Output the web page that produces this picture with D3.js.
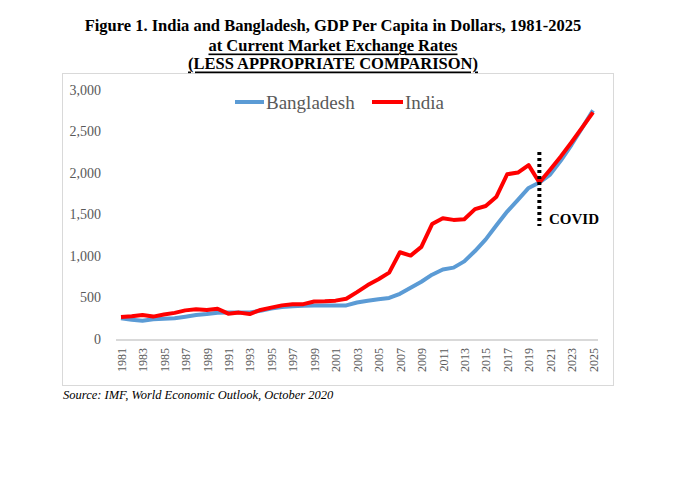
<!DOCTYPE html>
<html><head><meta charset="utf-8">
<script src="https://cdn.jsdelivr.net/npm/d3@7"></script>
<style>body{margin:0;background:#fff}svg{display:block}</style>
</head><body>
<script>
const years = d3.range(1981, 2026);
const india = [265,275,290,270,295,315,345,358,350,365,305,318,300,350,378,405,420,420,452,455,462,485,565,650,720,800,1045,1005,1110,1385,1455,1435,1442,1565,1602,1715,1985,2005,2095,1885,2040,2200,2370,2550,2730];
const bangladesh = [250,232,220,237,245,250,268,288,300,317,320,320,320,340,368,385,395,400,405,405,405,405,440,462,478,495,545,618,690,775,838,860,935,1060,1200,1370,1535,1675,1820,1885,1980,2150,2340,2545,2755];
const yTicks = [0,500,1000,1500,2000,2500,3000];
const xTickYears = years.filter(y => (y - 1981) % 2 === 0);
const titleLines = ["Figure 1. India and Bangladesh, GDP Per Capita in Dollars, 1981-2025","at Current Market Exchange Rates","(LESS APPROPRIATE COMPARISON)"];
const seriesNames = ["Bangladesh","India"];
const colors = ["#5B9BD5","#FF0000"];
const covidYear = 2020;
const sourceText = "Source: IMF, World Economic Outlook, October 2020";

const W = 679, H = 499;
const svg = d3.select("body").append("svg").attr("width", W).attr("height", H);
const serif = "'Liberation Serif','DejaVu Serif',serif";

// chart border
svg.append("rect").attr("x",62.5).attr("y",73.5).attr("width",551).attr("height",312)
  .attr("fill","none").attr("stroke","#D9D9D9").attr("stroke-width",1);

// title
const tY = [25, 45, 63];
titleLines.forEach((t,i)=>{
  svg.append("text").attr("x",333).attr("y",tY[i]).attr("text-anchor","middle")
    .attr("dominant-baseline","central")
    .attr("font-family",serif).attr("font-weight","bold").attr("font-size",16.5)
    .attr("fill","#000").attr("text-decoration", i>0 ? "underline" : null).text(t);
});

const x = d3.scaleLinear().domain([1981, 2025]).range([121, 593]);
const y = d3.scaleLinear().domain([0, 3000]).range([339, 90]);

// x axis line
svg.append("line").attr("x1",116).attr("x2",598).attr("y1",y(0)+1).attr("y2",y(0)+1)
  .attr("stroke","#D9D9D9").attr("stroke-width",2);

// y tick labels
const yAxis = d3.axisLeft(y).tickValues(yTicks).tickSize(0).tickPadding(0)
  .tickFormat(d3.format(","));
const yg = svg.append("g").attr("transform","translate(101,0)").call(yAxis);
yg.select(".domain").remove();
yg.selectAll("text").attr("font-family",serif).attr("font-size",14).attr("fill","#595959");

// x tick labels
const xAxis = d3.axisBottom(x).tickValues(xTickYears).tickSize(0).tickFormat(d3.format("d"));
const xg = svg.append("g").attr("transform",`translate(0,${y(0)})`).call(xAxis);
xg.select(".domain").remove();
xg.selectAll("text").attr("font-family",serif).attr("font-size",12).attr("fill","#595959")
  .attr("transform","rotate(-90)").attr("text-anchor","end")
  .attr("x",-9).attr("y",0).attr("dy","0.35em");

// lines
const line = d3.line().x((d,i)=>x(years[i])).y(d=>y(d));
[bangladesh, india].forEach((s,i)=>{
  svg.append("path").datum(s).attr("d",line).attr("fill","none")
    .attr("stroke",colors[i]).attr("stroke-width",4).attr("stroke-linejoin","round");
});

// legend
const leg = [{x1:235,x2:264,tx:266},{x1:372,x2:403,tx:405}];
leg.forEach((l,i)=>{
  svg.append("line").attr("x1",l.x1).attr("x2",l.x2).attr("y1",102).attr("y2",102)
    .attr("stroke",colors[i]).attr("stroke-width",4);
  svg.append("text").attr("x",l.tx).attr("y",102).attr("dominant-baseline","central")
    .attr("font-family",serif).attr("font-size",19).attr("fill","#595959").text(seriesNames[i]);
});

// COVID marker
svg.append("line").attr("x1",x(covidYear)).attr("x2",x(covidYear)).attr("y1",152).attr("y2",226)
  .attr("stroke","#000").attr("stroke-width",4).attr("stroke-dasharray","3,3");
svg.append("text").attr("x",549).attr("y",219).attr("dominant-baseline","central")
  .attr("font-family",serif).attr("font-weight","bold").attr("font-size",15).attr("fill","#000").text("COVID");

// source
svg.append("text").attr("x",63).attr("y",395).attr("dominant-baseline","central")
  .attr("font-family",serif).attr("font-style","italic").attr("font-size",12.5).attr("fill","#000").text(sourceText);
</script>
</body></html>
